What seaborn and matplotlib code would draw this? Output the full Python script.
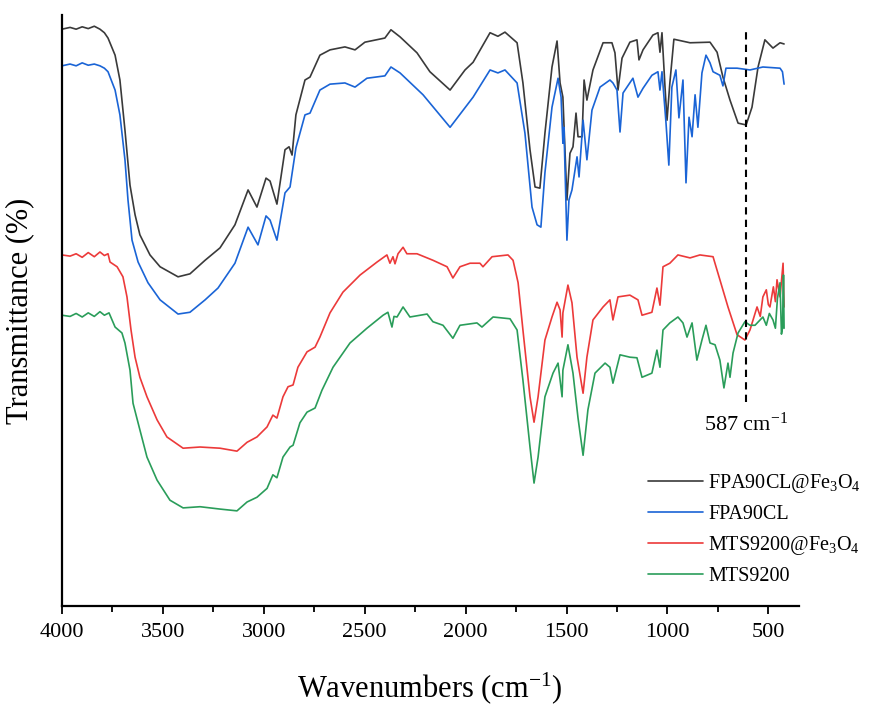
import numpy as np
import pandas as pd
import seaborn as sns
import matplotlib.pyplot as plt

# spectres FTIR (transmittance décalée, unités arbitraires)
fpa_fe_wn = [4000, 3960, 3930, 3900, 3870, 3840, 3812, 3790, 3772, 3737, 3713, 3688, 3663, 3638, 3614,
             3564, 3514, 3425, 3366, 3291, 3217, 3143, 3078, 3034, 2989, 2969, 2935, 2895, 2875, 2860,
             2841, 2796, 2771, 2722, 2672, 2598, 2548, 2499, 2400, 2370, 2325, 2241, 2177, 2077, 2003,
             1963, 1879, 1840, 1805, 1745, 1716, 1681, 1656, 1632, 1607, 1572, 1547, 1532, 1518, 1498,
             1483, 1468, 1453, 1443, 1423, 1413, 1399, 1369, 1319, 1275, 1260, 1245, 1225, 1186, 1151,
             1141, 1121, 1072, 1047, 1037, 1027, 1012, 1002, 988, 968, 888, 789, 754, 725, 690, 650,
             610, 581, 551, 517, 477, 442, 422]
fpa_fe_t = [97.6, 97.9, 97.6, 98.0, 97.7, 98.1, 97.6, 97.0, 96.1, 93.2, 89.0, 80.5, 71.2, 66.2, 62.8,
            59.4, 57.4, 55.7, 56.2, 58.5, 60.6, 64.5, 70.4, 67.5, 72.4, 71.9, 68.0, 77.2, 77.7, 76.3,
            83.1, 89.0, 89.5, 93.2, 94.1, 94.6, 94.1, 95.4, 96.1, 97.5, 96.3, 93.6, 90.4, 87.3, 90.7,
            92.0, 97.0, 96.4, 97.1, 95.3, 88.5, 77.2, 70.9, 70.7, 80.0, 91.2, 95.6, 88.5, 86.1, 68.7,
            76.6, 77.7, 83.4, 79.4, 79.4, 89.0, 85.6, 90.7, 95.3, 95.3, 93.6, 87.3, 92.7, 95.4, 95.8,
            92.4, 94.1, 96.6, 97.0, 93.7, 97.0, 87.8, 82.2, 88.5, 95.9, 95.3, 95.4, 93.7, 89.5, 85.6, 81.7,
            81.4, 84.4, 91.2, 95.8, 94.4, 95.3, 95.1]

fpa_wn = [4000, 3960, 3930, 3900, 3870, 3840, 3812, 3790, 3772, 3737, 3713, 3688, 3673, 3653, 3623,
          3574, 3514, 3425, 3366, 3291, 3227, 3143, 3078, 3029, 2989, 2969, 2935, 2895, 2870, 2841,
          2796, 2771, 2722, 2672, 2598, 2548, 2489, 2400, 2370, 2325, 2211, 2077, 1963, 1879, 1840,
          1805, 1745, 1706, 1671, 1646, 1627, 1607, 1572, 1542, 1527, 1518, 1513, 1498, 1488, 1473,
          1448, 1438, 1418, 1399, 1374, 1334, 1285, 1270, 1250, 1235, 1220, 1171, 1146, 1121, 1077,
          1047, 1037, 1027, 1007, 993, 978, 958, 943, 923, 908, 893, 878, 863, 849, 829, 809, 789,
          774, 740, 725, 710, 655, 591, 527, 442, 430, 422]
fpa_t = [91.4, 91.7, 91.4, 91.9, 91.5, 91.7, 91.4, 91.0, 90.4, 87.3, 83.1, 75.5, 68.7, 61.9, 58.2,
         54.7, 51.8, 49.4, 49.7, 51.8, 53.8, 58.0, 64.1, 61.1, 66.0, 65.3, 61.9, 69.9, 70.9, 77.5,
         83.1, 83.4, 87.3, 88.3, 88.5, 87.8, 89.3, 89.7, 91.2, 90.2, 86.5, 81.0, 86.1, 90.7, 90.2,
         90.7, 88.5, 80.0, 67.5, 64.5, 64.1, 73.3, 84.4, 89.3, 86.1, 78.3, 81.0, 61.9, 68.7, 70.4,
         76.0, 72.6, 82.2, 75.5, 83.9, 87.8, 89.0, 88.5, 87.3, 80.2, 86.8, 89.3, 86.1, 87.6, 89.8,
         90.4, 87.3, 90.4, 81.7, 74.6, 87.8, 90.7, 82.6, 89.0, 71.6, 82.7, 79.4, 86.5, 81.0, 90.2, 93.2, 91.9,
         90.4, 89.8, 88.0, 91.0, 91.0, 90.7, 91.2, 91.0, 90.4, 88.3]

mts_fe_wn = [4000, 3960, 3930, 3900, 3870, 3840, 3812, 3790, 3772, 3762, 3727, 3698, 3678, 3658, 3638,
             3614, 3579, 3529, 3480, 3400, 3316, 3217, 3133, 3083, 3034, 2984, 2955, 2935, 2905, 2880,
             2855, 2831, 2786, 2746, 2722, 2672, 2608, 2523, 2439, 2390, 2375, 2360, 2350, 2335, 2310,
             2291, 2241, 2162, 2092, 2063, 2028, 1978, 1929, 1914, 1869, 1790, 1765, 1740, 1716, 1681,
             1661, 1641, 1607, 1572, 1547, 1532, 1522, 1518, 1493, 1473, 1448, 1418, 1399, 1369, 1319,
             1285, 1270, 1245, 1186, 1146, 1126, 1077, 1052, 1037, 1022, 988, 948, 888, 839, 774, 740,
             700, 655, 616, 591, 556, 540, 527, 510, 500, 492, 475, 465, 457, 442, 427, 422]
mts_fe_t = [59.4, 59.2, 59.6, 59.0, 59.8, 59.1, 59.9, 59.3, 59.6, 58.2, 57.4, 55.7, 52.3, 46.7, 42.1,
            38.7, 35.4, 31.5, 28.6, 26.7, 26.9, 26.7, 26.2, 27.7, 28.6, 30.3, 32.3, 31.8, 35.4, 37.1,
            37.4, 40.4, 43.0, 43.8, 45.5, 49.6, 53.1, 56.0, 58.2, 59.4, 58.0, 59.1, 57.9, 59.6, 60.7,
            59.6, 59.6, 58.5, 57.4, 55.5, 57.4, 58.0, 58.0, 57.4, 59.1, 59.4, 58.5, 54.7, 46.7, 35.4,
            31.1, 35.4, 45.0, 48.9, 51.4, 50.1, 45.5, 49.6, 54.3, 51.3, 42.1, 36.0, 42.1, 48.4, 50.6,
            51.8, 48.4, 52.3, 52.6, 51.8, 49.2, 49.7, 53.8, 50.9, 57.4, 58.0, 59.4, 58.9, 59.4, 59.1, 55.2,
            50.6, 45.9, 45.0, 46.7, 50.6, 49.0, 52.3, 53.5, 51.0, 50.6, 54.0, 51.5, 55.2, 52.3, 58.0, 50.6]

mts_wn = [4000, 3960, 3930, 3900, 3870, 3840, 3812, 3790, 3767, 3737, 3703, 3688, 3663, 3648, 3614,
          3579, 3529, 3465, 3400, 3316, 3217, 3133, 3083, 3034, 2984, 2955, 2935, 2905, 2870, 2855,
          2821, 2786, 2746, 2712, 2657, 2573, 2489, 2409, 2385, 2365, 2355, 2340, 2310, 2276, 2191,
          2162, 2112, 2063, 2028, 1944, 1919, 1864, 1780, 1745, 1716, 1681, 1661, 1641, 1607, 1567,
          1542, 1522, 1518, 1493, 1468, 1443, 1418, 1394, 1359, 1309, 1285, 1270, 1235, 1186, 1151,
          1126, 1077, 1052, 1037, 1022, 988, 948, 923, 903, 878, 854, 829, 809, 789, 764, 740, 720,
          700, 690, 675, 650, 616, 591, 566, 527, 510, 495, 477, 465, 455, 442, 435, 430, 425, 422]
mts_t = [49.2, 49.0, 49.5, 48.9, 49.6, 49.0, 49.8, 49.2, 49.6, 47.2, 46.2, 44.5, 39.9, 34.3, 29.8,
         25.2, 21.3, 17.9, 16.6, 16.8, 16.4, 16.1, 17.6, 18.4, 19.9, 22.2, 21.7, 25.2, 26.9, 27.2,
         31.0, 32.8, 33.5, 36.5, 40.4, 44.5, 47.0, 49.2, 49.7, 47.2, 49.0, 48.9, 50.6, 48.9, 49.4,
         48.1, 47.5, 45.3, 47.5, 47.9, 47.2, 48.9, 48.6, 46.7, 38.2, 26.9, 20.8, 25.2, 35.4, 39.4,
         41.1, 35.4, 39.9, 44.2, 39.4, 31.8, 25.5, 33.2, 39.4, 41.1, 40.4, 37.7, 42.5, 42.1, 42.0,
         38.7, 39.4, 43.3, 40.4, 46.7, 47.9, 48.9, 47.9, 45.5, 47.9, 41.6, 45.0, 47.5, 44.5, 44.2, 41.6, 36.9,
         41.1, 38.7, 42.8, 46.2, 48.1, 47.5, 47.5, 48.9, 47.5, 49.5, 48.4, 47.0, 52.0, 54.7, 46.0, 47.0, 56.0, 47.0]

labels = ['FPA90CL@Fe$_3$O$_4$', 'FPA90CL', 'MTS9200@Fe$_3$O$_4$', 'MTS9200']
couleurs = ['#3a3a3a', '#1a64d6', '#ec3a3a', '#2a9d5a']
pic_fe = 610          # position de la ligne pointillée
pic_label = '587 cm$^{-1}$'

df = pd.concat([
    pd.DataFrame({'wn': fpa_fe_wn, 't': fpa_fe_t, 'echantillon': labels[0]}),
    pd.DataFrame({'wn': fpa_wn, 't': fpa_t, 'echantillon': labels[1]}),
    pd.DataFrame({'wn': mts_fe_wn, 't': mts_fe_t, 'echantillon': labels[2]}),
    pd.DataFrame({'wn': mts_wn, 't': mts_t, 'echantillon': labels[3]}),
], ignore_index=True)

sns.set_style('ticks')
plt.rcParams['font.family'] = ['Liberation Serif', 'DejaVu Serif']
plt.rcParams['mathtext.fontset'] = 'custom'
plt.rcParams['mathtext.rm'] = 'Liberation Serif'
plt.rcParams['mathtext.it'] = 'Liberation Serif:italic'
plt.rcParams['text.color'] = 'black'
plt.rcParams['axes.labelcolor'] = 'black'
plt.rcParams['xtick.color'] = 'black'

fig = plt.figure(figsize=(8.72, 7.04), dpi=100)
ax = fig.add_axes([0.0711, 0.1392, 0.8452, 0.8395])

sns.lineplot(data=df, x='wn', y='t', hue='echantillon', hue_order=labels,
             palette=dict(zip(labels, couleurs)), estimator=None, sort=False,
             linewidth=1.2, ax=ax)
for ln in ax.get_lines():
    ln.set_solid_joinstyle('round')

ax.axvline(pic_fe, ymin=0.345, ymax=0.975, color='black', linestyle=(0, (3.5, 2.5)), linewidth=1.5)
ax.text(pic_fe, 30.8, pic_label, ha='center', va='center', fontsize=16)

ax.set_xlim(4000, 348)
ax.set_ylim(0, 100)
ax.set_xticks([4000, 3500, 3000, 2500, 2000, 1500, 1000, 500])
ax.set_xticks(np.arange(3750, 600, -500), minor=True)
ax.set_yticks([])
ax.tick_params(axis='x', which='major', direction='out', length=6, width=1.3, labelsize=16, pad=6)
ax.tick_params(axis='x', which='minor', direction='out', length=4, width=1.3)
for s in ['top', 'right']:
    ax.spines[s].set_visible(False)
for s in ['left', 'bottom']:
    ax.spines[s].set_linewidth(1.6)
    ax.spines[s].set_color('black')

ax.set_xlabel('Wavenumbers (cm$^{-1}$)', fontsize=22)
ax.set_ylabel('Transmittance (%)', fontsize=22)
ax.xaxis.set_label_coords(0.499, -0.108)
ax.yaxis.set_label_coords(-0.038, 0.5)

h, l = ax.get_legend_handles_labels()
ax.legend(h, l, loc='upper left', bbox_to_anchor=(0.743, 0.33), bbox_transform=fig.transFigure,
          frameon=False, fontsize=14.5, handlelength=2.75, handletextpad=0.25,
          labelspacing=0.5, borderpad=0, borderaxespad=0)

plt.savefig('out.png', dpi=100)
